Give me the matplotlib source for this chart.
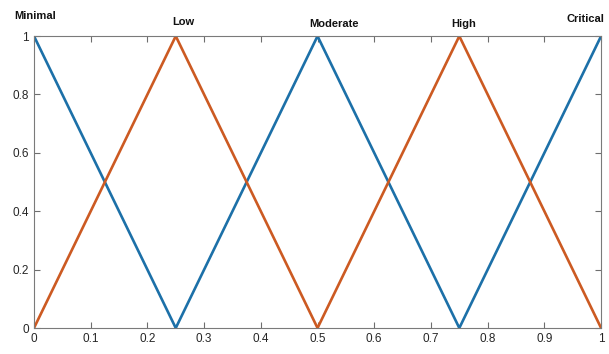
import matplotlib
matplotlib.use("Agg")
import matplotlib.pyplot as plt

plt.rcParams['font.family'] = ['Liberation Sans', 'DejaVu Sans']

x_vals = [0, 0.25, 0.5, 0.75, 1.0]
blue_vals = [1, 0, 1, 0, 1]
orange_vals = [0, 1, 0, 1, 0]
labels = ["Minimal", "Low", "Moderate", "High", "Critical"]
label_x = [0.002, 0.263, 0.529, 0.757, 0.973]
label_y = [1.068, 1.048, 1.04, 1.04, 1.058]
xticks = [0, 0.1, 0.2, 0.3, 0.4, 0.5, 0.6, 0.7, 0.8, 0.9, 1]
yticks = [0, 0.2, 0.4, 0.6, 0.8, 1]

fig = plt.figure(figsize=(6.09, 3.54), dpi=100)
ax = fig.add_axes([0.0558, 0.0734, 0.9312, 0.8246])
ax.plot(x_vals, blue_vals, color='#1C70A8', lw=1.9, solid_joinstyle='miter')
ax.plot(x_vals, orange_vals, color='#CC5A22', lw=1.9, solid_joinstyle='miter')
ax.set_xlim(0, 1)
ax.set_ylim(0, 1)
ax.set_xticks(xticks)
ax.set_xticklabels([f"{t:g}" for t in xticks])
ax.set_yticks(yticks)
ax.set_yticklabels([f"{t:g}" for t in yticks])
ax.tick_params(direction='in', top=True, right=True, length=4, width=0.8,
               colors='#6e6e6e', labelcolor='#262626', labelsize=8.5)
for s in ax.spines.values():
    s.set_color('#7a7a7a')
    s.set_linewidth(0.8)
for lab, lx, ly in zip(labels, label_x, label_y):
    ax.text(lx, ly, lab, ha='center', va='center', fontsize=8, fontweight='bold',
            color='#111111', clip_on=False)
fig.savefig('out.png', dpi=100)
